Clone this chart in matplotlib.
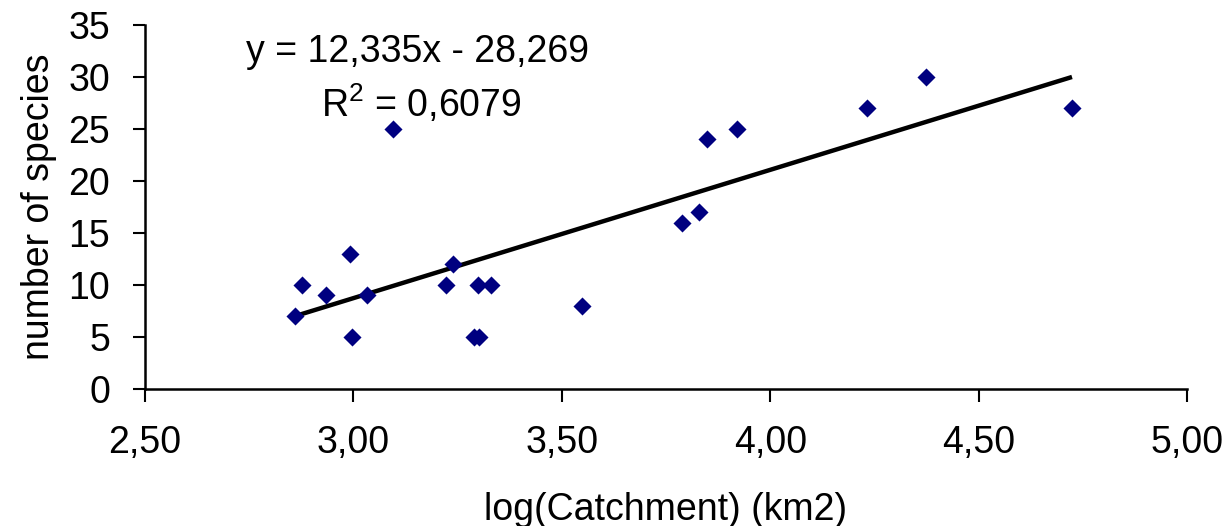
import matplotlib
matplotlib.use("Agg")
import matplotlib.pyplot as plt
import numpy as np

plt.rcParams['font.family'] = ['Liberation Sans', 'DejaVu Sans']
plt.rcParams['mathtext.fontset'] = 'custom'
plt.rcParams['mathtext.rm'] = 'Liberation Sans'
plt.rcParams['mathtext.it'] = 'Liberation Sans'

log_catchment = [2.860, 2.877, 2.934, 2.992, 2.997, 3.032, 3.095, 3.221, 3.238,
                 3.289, 3.302, 3.300, 3.330, 3.548, 3.788, 3.829, 3.848, 3.921,
                 4.231, 4.374, 4.724]
species = [7, 10, 9, 13, 5, 9, 25, 10, 12, 5, 5, 10, 10, 8, 16, 17, 24, 25, 27, 30, 27]

slope = 12.335
intercept = -28.269

x_ticks = [2.5, 3.0, 3.5, 4.0, 4.5, 5.0]
x_tick_labels = ["2,50", "3,00", "3,50", "4,00", "4,50", "5,00"]
y_ticks = [0, 5, 10, 15, 20, 25, 30, 35]

FS = 27

fig = plt.figure(figsize=(12.25, 5.26), dpi=100)
ax = fig.add_axes([0.1184, 0.2605, 0.8506, 0.692])

ax.scatter(log_catchment, species, marker='D', s=9.2**2, color='#000080',
           linewidths=0, zorder=3)
xl = np.array([min(log_catchment), max(log_catchment)])
ax.plot(xl, slope * xl + intercept, color='black', lw=3.2, zorder=2,
        solid_capstyle='butt')

ax.set_xlim(2.5, 5.0)
ax.set_ylim(0, 35)
ax.set_xticks(x_ticks)
ax.set_xticklabels(x_tick_labels)
ax.set_yticks(y_ticks)
ax.tick_params(axis='both', labelsize=FS, direction='out', length=9, width=1.5,
               color='black')
ax.tick_params(axis='x', pad=17)
ax.tick_params(axis='y', pad=16)
for s in ['top', 'right']:
    ax.spines[s].set_visible(False)
for s in ['left', 'bottom']:
    ax.spines[s].set_linewidth(1.8)

ax.set_xlabel("log(Catchment) (km2)", fontsize=FS, labelpad=22)
ax.set_ylabel("number of species", fontsize=FS, labelpad=8)

fig.text(418 / 1225, 1 - 52 / 526, "y = 12,335x - 28,269", fontsize=FS,
         ha='center', va='center')
fig.text(421 / 1225, 1 - 104 / 526, r"R$^2$ = 0,6079", fontsize=FS,
         ha='center', va='center')

fig.savefig("out.png", dpi=100)
